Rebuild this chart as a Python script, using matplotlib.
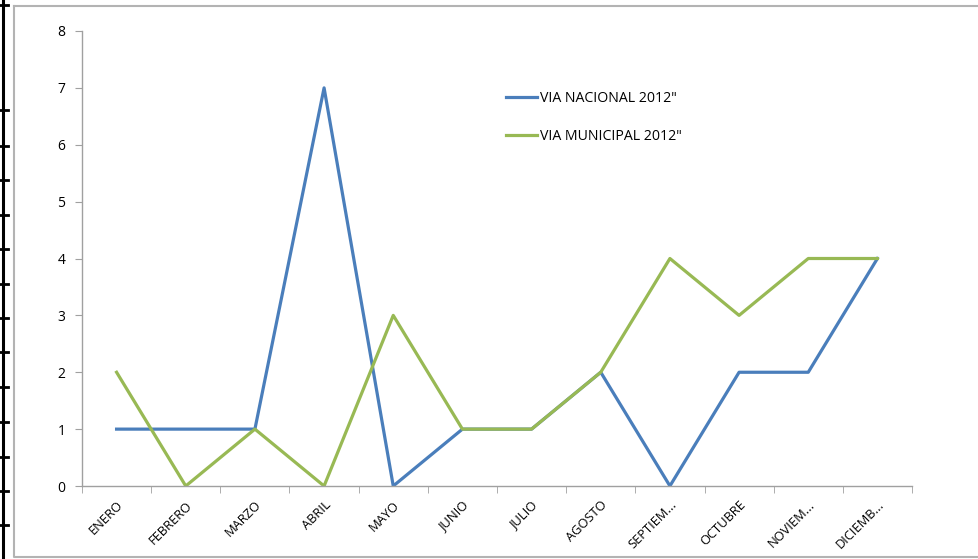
import matplotlib.pyplot as plt
from matplotlib.lines import Line2D
import numpy as np

meses = ['ENERO', 'FEBRERO', 'MARZO', 'ABRIL', 'MAYO', 'JUNIO', 'JULIO',
         'AGOSTO', 'SEPTIEM...', 'OCTUBRE', 'NOVIEM...', 'DICIEMB...']
via_nacional = [1, 1, 1, 7, 0, 1, 1, 2, 0, 2, 2, 4]
via_municipal = [2, 0, 1, 0, 3, 1, 1, 2, 4, 3, 4, 4]
y_ticks = [0, 1, 2, 3, 4, 5, 6, 7, 8]

plt.rcParams['font.family'] = ['Open Sans', 'DejaVu Sans']

fig = plt.figure(figsize=(9.79, 5.59), dpi=100)
W, H = 979, 559

# outer frame of the sheet and chart border
fig.add_artist(Line2D([3 / W, 3 / W], [0, 1], color='black', lw=2.2))
for yy in [5, 110, 146, 180, 215, 249, 284, 318, 352, 387, 422, 457, 491, 525]:
    fig.add_artist(Line2D([0, 8 / W], [1 - yy / H, 1 - yy / H], color='black', lw=2))
fig.add_artist(Line2D([14 / W, 14 / W, 1], [1 - 6 / H, 1 - 557 / H, 1 - 557 / H],
                      color='#b3b3b3', lw=1.5))
fig.add_artist(Line2D([14 / W, 1], [1 - 6 / H, 1 - 6 / H], color='#b3b3b3', lw=1.5))

ax = fig.add_axes([82 / W, 1 - 486 / H, (912 - 82) / W, (486 - 31) / H])
x = np.arange(len(meses))
ax.plot(x, via_nacional, color='#4a7ebb', lw=2.3, label='VIA NACIONAL 2012"')
ax.plot(x, via_municipal, color='#98b954', lw=2.3, label='VIA MUNICIPAL 2012"')

ax.set_xlim(-0.5, len(meses) - 0.5)
ax.set_ylim(0, 8)
ax.set_yticks(y_ticks)
ax.set_xticks(x)
ax.set_xticklabels(meses, rotation=45, ha='right', va='top', rotation_mode='anchor', fontsize=9.3)
ax.set_xticks(np.arange(-0.5, len(meses), 1), minor=True)
ax.tick_params(axis='x', which='major', length=0, pad=9)
ax.tick_params(axis='x', which='minor', length=5, color='#a0a0a0', direction='out')
ax.tick_params(axis='y', length=5, color='#a0a0a0', labelsize=10, pad=7)

for s in ['top', 'right']:
    ax.spines[s].set_visible(False)
for s in ['left', 'bottom']:
    ax.spines[s].set_color('#a0a0a0')
    ax.spines[s].set_linewidth(1)

ax.legend(loc='upper left', bbox_to_anchor=(493 / W, 1 - 78 / H), bbox_transform=fig.transFigure,
          frameon=False, fontsize=10.2, handlelength=2.2, handletextpad=0.25, labelspacing=1.62)

fig.savefig('out.png', dpi=100)
